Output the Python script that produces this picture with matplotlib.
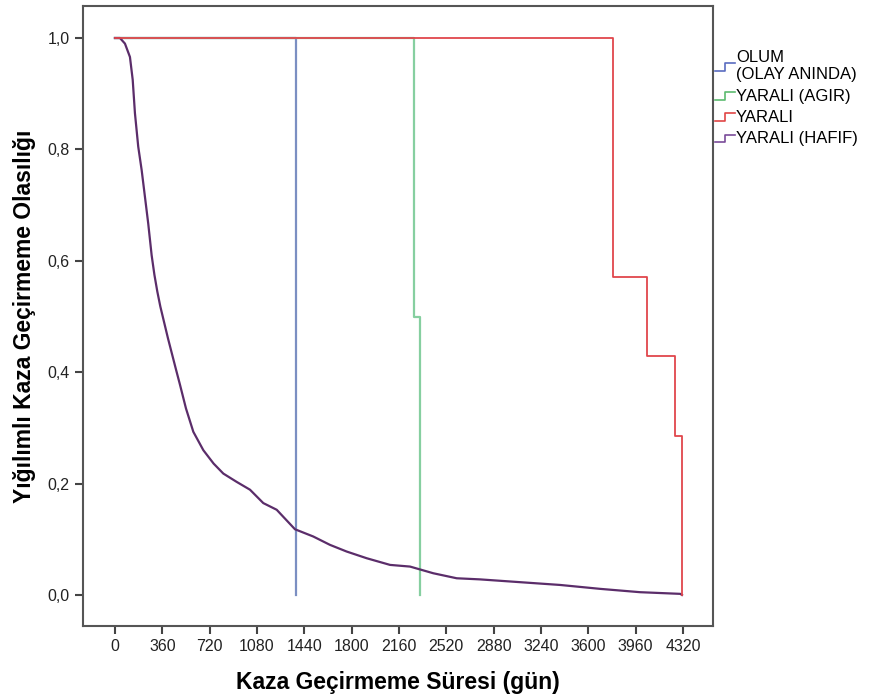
import matplotlib
matplotlib.use('Agg')
import matplotlib.pyplot as plt
from matplotlib.legend_handler import HandlerBase
from matplotlib.lines import Line2D

plt.rcParams['font.family'] = ['Liberation Sans', 'DejaVu Sans']

# Kaplan-Meier curves (days, survival)
olum_days = [0, 1377, 1377]
olum_surv = [1.0, 1.0, 0.0]

agir_days = [0, 2274, 2274, 2320, 2320]
agir_surv = [1.0, 1.0, 0.5, 0.5, 0.0]

yarali_days = [0, 3788, 3788, 4046, 4046, 4259, 4259, 4312, 4312]
yarali_surv = [1.0, 1.0, 4/7, 4/7, 3/7, 3/7, 2/7, 2/7, 0.0]

hafif_days = [0, 38, 76, 114, 135, 152, 177, 203, 228, 253, 279, 300, 322, 345,
              403, 464, 494, 540, 596, 672, 750, 824, 926, 1027, 1128, 1230,
              1369, 1508, 1635, 1762, 1914, 2092, 2244, 2421, 2599, 2776, 3080,
              3385, 3689, 3993, 4300, 4312]
hafif_surv = [1.0, 1.0, 0.990, 0.966, 0.925, 0.865, 0.805, 0.763, 0.715, 0.667,
              0.610, 0.575, 0.545, 0.518, 0.461, 0.405, 0.378, 0.335, 0.293,
              0.260, 0.236, 0.218, 0.203, 0.189, 0.165, 0.153, 0.118, 0.105,
              0.090, 0.078, 0.066, 0.054, 0.051, 0.039, 0.030, 0.028, 0.023,
              0.018, 0.011, 0.005, 0.002, 0.0]

labels = ['OLUM\n(OLAY ANINDA)', 'YARALI (AGIR)', 'YARALI', 'YARALI (HAFIF)']
line_colors = ['#7b8fc2', '#86cfa0', '#e0464c', '#5b2d6a']
icon_colors = ['#5a6cc0', '#5cbb70', '#e04545', '#7a4b9a']

x_ticks = list(range(0, 4321, 360))
y_ticks = [0.0, 0.2, 0.4, 0.6, 0.8, 1.0]


class StepHandler(HandlerBase):
    # little step icon like in SPSS survival legends
    def create_artists(self, legend, orig_handle, xdescent, ydescent,
                       width, height, fontsize, trans):
        x0 = -xdescent
        xs = [x0, x0 + 0.5 * width, x0 + 0.5 * width, x0 + width]
        ys = [-ydescent + 0.1 * height, -ydescent + 0.1 * height,
              -ydescent + 0.75 * height, -ydescent + 0.75 * height]
        ln = Line2D(xs, ys, color=orig_handle.get_color(), lw=1.2)
        ln.set_transform(trans)
        return [ln]


fig = plt.figure(figsize=(8.72, 7.0), dpi=100)
ax = fig.add_axes([83/872, 1 - 626/700, 630/872, 620/700])

ax.plot(olum_days, olum_surv, color=line_colors[0], lw=1.6)
ax.plot(agir_days, agir_surv, color=line_colors[1], lw=1.6)
ax.plot(hafif_days, hafif_surv, color=line_colors[3], lw=1.6)
ax.plot(yarali_days, yarali_surv, color=line_colors[2], lw=1.3)

ax.set_xlim(-243, 4548)
ax.set_ylim(-0.0557, 1.0575)
ax.set_xticks(x_ticks)
ax.set_yticks(y_ticks)
ax.set_yticklabels([f'{v:.1f}'.replace('.', ',') for v in y_ticks])
ax.tick_params(direction='out', length=6, width=1.5, colors='#444',
               labelcolor='#222', labelsize=11.5)
for s in ax.spines.values():
    s.set_color('#555')
    s.set_linewidth(1.5)

ax.set_xlabel('Kaza Geçirmeme Süresi (gün)', fontsize=16.5, fontweight='bold',
              labelpad=12)
ax.set_ylabel('Yığılımlı Kaza Geçirmeme Olasılığı', fontsize=16.5,
              fontweight='bold', labelpad=8)

handles = [Line2D([], [], color=c) for c in icon_colors]
fig.legend(handles, labels, loc='upper left',
           bbox_to_anchor=(715/872, 1 - 50/700), frameon=False,
           fontsize=12, handler_map={Line2D: StepHandler()},
           handlelength=1.2, handletextpad=0.05, labelspacing=0.38,
           borderpad=0, borderaxespad=0)

fig.savefig('out.png', dpi=100)
